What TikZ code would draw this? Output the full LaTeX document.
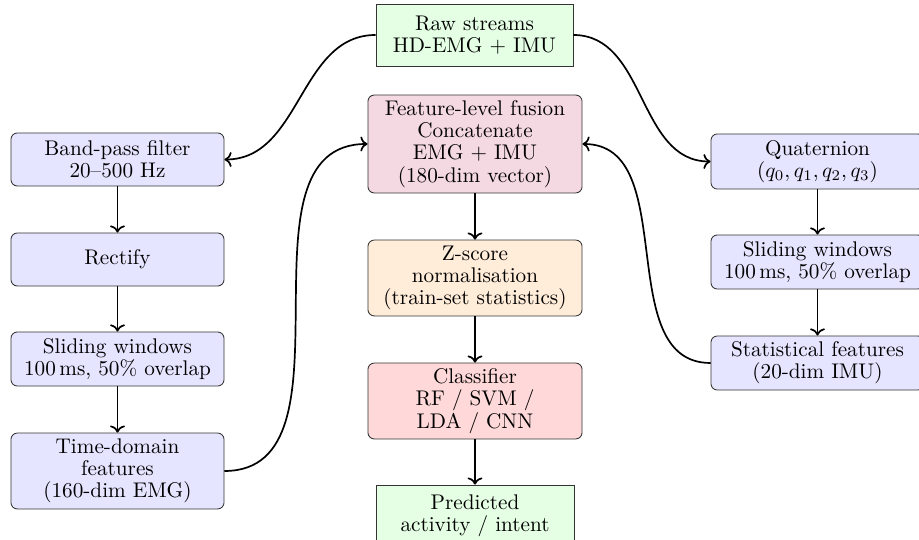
\documentclass[tikz,border=0pt]{standalone}
\usetikzlibrary{arrows.meta}
\begin{document}
\begin{tikzpicture}[x=0.4717pt,y=-0.4717pt,
  base/.style={draw=black!80, align=center, inner sep=2pt,
    font=\fontsize{10}{10.5}\selectfont},
  box/.style={base, rounded corners=3pt, minimum width=100.5pt},
  sharp/.style={base, minimum height=29.2pt},
  arr/.style={->, thick}]
\useasboundingbox (0,0) rectangle (919,540);

% top and bottom
\node[sharp, fill=green!10, minimum width=92.9pt] (raw) at (474.5,35) {Raw streams\\HD-EMG $+$ IMU};
\node[sharp, fill=green!10, minimum width=93.4pt] (pred) at (475,516) {Predicted\\activity / intent};

% left column
\node[box, fill=blue!10, minimum height=25pt] (bp) at (117.5,159.5) {Band-pass filter\\20--500 Hz};
\node[box, fill=blue!10, minimum height=25pt] (rect) at (117.5,259.5) {Rectify};
\node[box, fill=blue!10, minimum height=25.5pt] (slL) at (117.5,359) {Sliding windows\\100\,ms, 50\% overlap};
\node[box, fill=blue!10, minimum height=35.8pt] (td) at (117.5,471) {Time-domain\\features\\(160-dim EMG)};

% centre column
\node[box, fill=purple!15, minimum width=101pt, minimum height=46.2pt] (fus) at (475,144) {Feature-level fusion\\Concatenate\\EMG $+$ IMU\\(180-dim vector)};
\node[box, fill=orange!15, minimum width=101pt, minimum height=35.8pt] (z) at (475,278) {Z-score\\normalisation\\(train-set statistics)};
\node[box, fill=red!15, minimum width=101pt, minimum height=35.8pt] (cls) at (475,401) {Classifier\\RF / SVM /\\LDA / CNN};

% right column
\node[box, fill=blue!10, minimum height=26pt] (q) at (817.5,161.5) {Quaternion\\$(q_0, q_1, q_2, q_3)$};
\node[box, fill=blue!10, minimum height=25.5pt] (slR) at (817.5,262) {Sliding windows\\100\,ms, 50\% overlap};
\node[box, fill=blue!10, minimum height=25.5pt] (st) at (817.5,363) {Statistical features\\(20-dim IMU)};

% connectors
\draw[arr] (raw.west) to[out=180,in=0] (bp.east);
\draw[arr] (raw.east) to[out=0,in=180] (q.west);
\draw[arr] (bp) -- (rect);
\draw[arr] (rect) -- (slL);
\draw[arr] (slL) -- (td);
\draw[arr] (td.east) to[out=0,in=180] (fus.west);
\draw[arr] (st.west) to[out=180,in=0] (fus.east);
\draw[arr] (fus) -- (z);
\draw[arr] (z) -- (cls);
\draw[arr] (cls) -- (pred);
\draw[arr] (q) -- (slR);
\draw[arr] (slR) -- (st);
\end{tikzpicture}
\end{document}
